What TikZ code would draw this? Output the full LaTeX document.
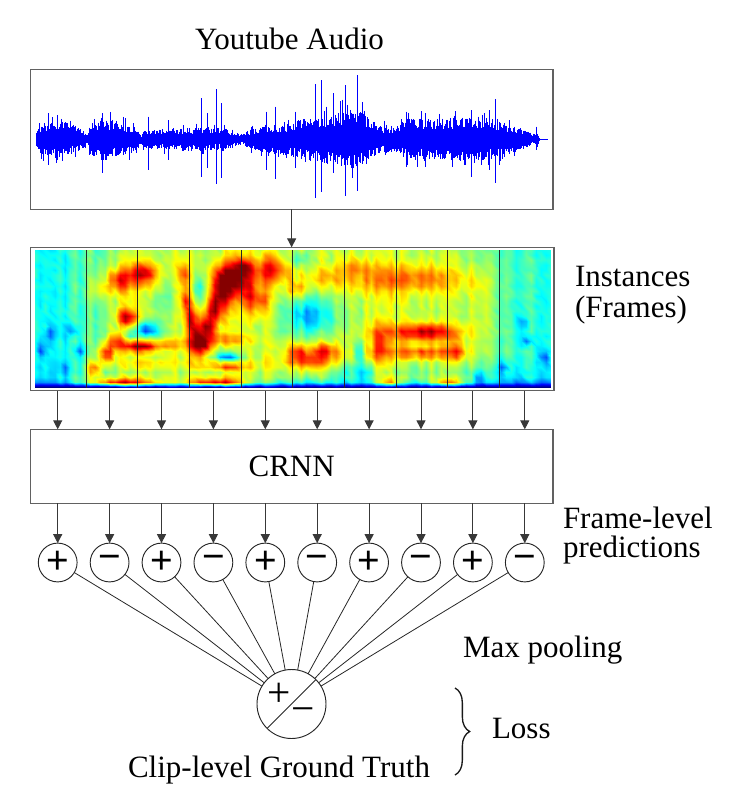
\documentclass[tikz,border=0pt]{standalone}
\usepackage{fontspec}
\setmainfont{Liberation Serif}
\newfontfamily\symsans{Liberation Sans}
\usepackage{pgfplots}
\pgfplotsset{compat=1.18}
\usetikzlibrary{arrows.meta,decorations.pathreplacing}
\newwrite\specout
\begin{document}
\begin{tikzpicture}[x=0.75pt,y=-0.75pt,
  lbl/.style={inner sep=0pt, outer sep=0pt, font=\rmfamily\fontsize{23.25}{23.25}\selectfont},
  frame/.style={draw=black!62, line width=1pt, inner sep=0pt, outer sep=0pt},
  arr/.style={draw=black!78, line width=0.75pt, -{Triangle[length=6.75pt,width=6.8pt]}},
  pred/.style={circle, draw=black!85, line width=0.7pt, minimum size=29.1pt, inner sep=0pt, outer sep=0pt, font=\symsans\fontsize{29}{29}\selectfont},
  link/.style={draw=black!85, line width=0.6pt},
  wv/.style={draw=blue, line width=0.68pt},
  fline/.style={draw=black!85, line width=0.6pt}
]
\useasboundingbox (0,0) rectangle (749,797);
\pgfmathsetseed{42}
% ---------- spectrogram data grid ----------
\foreach \i in {0,...,103} {
  \pgfmathsetmacro\cn{0.05*rand}
  \pgfmathsetmacro\tq{(\i/103-0.5)/0.4}
  \pgfmathsetmacro\mm{0.40+0.15*exp(-min(9,((\tq)*(\tq))^4))}
  \foreach \j in {0,...,27} {
    \pgfmathsetmacro\vq{\j/27}
    \pgfmathsetmacro\val{\mm+(\cn)+0.03*rand-0.45*exp(-min(9,(\vq/0.028)^2))-0.08*exp(-min(9,(\vq/0.12)^2))}
    \expandafter\xdef\csname sg@\i @\j\endcsname{\val}
  }
}
\foreach \ba/\bu/\bv/\bw/\bh in {
 0.30/0.165/0.78/0.025/0.07, 0.38/0.211/0.83/0.025/0.065, 0.12/0.131/0.71/0.02/0.06,
 0.45/0.178/0.51/0.017/0.055, -0.38/0.215/0.42/0.018/0.045, -0.15/0.185/0.38/0.012/0.03,
 0.38/0.20/0.295/0.025/0.03, 0.20/0.24/0.31/0.06/0.03, 0.35/0.114/0.136/0.012/0.05,
 0.35/0.138/0.246/0.012/0.05, 0.30/0.155/0.343/0.012/0.05, 0.13/0.22/0.17/0.06/0.04,
 0.60/0.17/0.045/0.06/0.02, 0.60/0.35/0.045/0.05/0.02,
 0.30/0.288/0.83/0.01/0.08, 0.30/0.292/0.635/0.01/0.08, 0.30/0.302/0.49/0.01/0.08,
 0.30/0.312/0.368/0.01/0.08, 0.45/0.322/0.30/0.014/0.05, 0.45/0.335/0.44/0.013/0.08,
 0.45/0.348/0.586/0.013/0.08, 0.45/0.365/0.708/0.013/0.08, 0.50/0.38/0.80/0.03/0.09,
 0.30/0.405/0.87/0.015/0.05, -0.22/0.318/0.72/0.012/0.1, -0.12/0.262/0.70/0.012/0.12,
 0.25/0.415/0.65/0.015/0.1, 0.30/0.459/0.86/0.025/0.08, 0.20/0.44/0.62/0.012/0.08,
 0.20/0.37/0.35/0.04/0.025, 0.28/0.37/0.16/0.045/0.03, -0.42/0.375/0.22/0.018/0.025,
 -0.26/0.532/0.53/0.04/0.13, -0.15/0.51/0.93/0.015/0.05, 0.30/0.535/0.20/0.04/0.06,
 0.25/0.56/0.27/0.02/0.04, 0.20/0.506/0.26/0.015/0.05, 0.18/0.506/0.71/0.015/0.05,
 0.10/0.56/0.80/0.04/0.06, -0.12/0.60/0.12/0.03/0.06,
 -0.2/0.625/0.25/0.01/0.06, -0.2/0.64/0.10/0.01/0.05,
 0.24/0.72/0.79/0.11/0.09, 0.15/0.62/0.88/0.02/0.05,
 0.36/0.745/0.40/0.07/0.055, 0.10/0.766/0.41/0.025/0.04, 0.22/0.666/0.30/0.012/0.12,
 0.28/0.75/0.25/0.075/0.035, 0.20/0.815/0.26/0.012/0.07, 0.10/0.86/0.60/0.02/0.2,
 0.40/0.80/0.045/0.03/0.02, 0.35/0.685/0.045/0.02/0.02,
 -0.2/0.031/0.39/0.008/0.035, -0.2/0.071/0.41/0.008/0.035, -0.2/0.085/0.26/0.008/0.035,
 -0.2/0.011/0.27/0.008/0.035, -0.15/0.058/0.15/0.008/0.035, -0.2/0.953/0.34/0.008/0.035,
 -0.2/0.987/0.22/0.008/0.035, -0.2/0.906/0.15/0.008/0.035, -0.2/0.86/0.075/0.008/0.035,
 -0.15/0.947/0.47/0.008/0.035} {
  \pgfmathtruncatemacro\ia{max(0,(\bu-4.3*\bw)*103)}
  \pgfmathtruncatemacro\ib{min(103,(\bu+4.3*\bw)*103+1)}
  \pgfmathtruncatemacro\ja{max(0,(\bv-4.3*\bh)*27)}
  \pgfmathtruncatemacro\jb{min(27,(\bv+4.3*\bh)*27+1)}
  \foreach \i in {\ia,...,\ib} {
    \foreach \j in {\ja,...,\jb} {
      \pgfmathsetmacro\dx{(\i/103-\bu)/\bw}
      \pgfmathsetmacro\dy{(\j/27-\bv)/\bh}
      \pgfmathsetmacro\dd{min(40,(\dx)*(\dx)+(\dy)*(\dy))}
      \edef\ov{\csname sg@\i @\j\endcsname}
      \pgfmathsetmacro\nv{\ov+0.7*(\ba)*(exp(-min(9,\dd))+0.4*exp(-min(9,\dd/3.5)))}
      \expandafter\xdef\csname sg@\i @\j\endcsname{\nv}
    }
  }
}
\immediate\openout\specout=\jobname-spec.dat
\foreach \j in {0,...,27} {
  \foreach \i in {0,...,103} {
    \edef\ov{\csname sg@\i @\j\endcsname}
    \pgfmathsetmacro\zz{max(0.005,min(0.995,\ov))}
    \immediate\write\specout{\i\space\j\space\zz}
  }
  \immediate\write\specout{}
}
\immediate\closeout\specout
% ---------- spectrogram image ----------
\begin{scope}[x=1pt,y=1pt]
\begin{axis}[at={(26.25pt,-290.25pt)}, anchor=south west, scale only axis, width=387pt, height=102.75pt,
  hide axis, view={0}{90}, xmin=0, xmax=103, ymin=0, ymax=27, colormap/jet,
  point meta min=0, point meta max=1, enlargelimits=false]
\addplot3[surf, shader=interp] table {\jobname-spec.dat};
\end{axis}
\end{scope}
\foreach \k in {0,...,8} {
  \draw[fline] ({86+51.65*\k},250) -- ({86+51.65*\k},387.5);
}
% ---------- waveform ----------
\foreach \xa/\ea/\xb/\eb in {45/15/60/50, 60/50/100/62, 100/62/140/55, 140/55/185/30, 185/30/195/15,
  195/15/205/50, 205/50/240/72, 240/72/300/55, 300/55/340/40, 340/40/348/10, 348/10/360/30,
  360/30/420/35, 420/35/520/40, 520/40/600/35, 600/35/645/15, 645/15/660/30, 660/30/720/45,
  720/45/780/55, 780/55/850/75, 850/75/920/90, 920/90/960/100, 960/100/1000/85, 1000/85/1040/45,
  1040/45/1100/45, 1100/45/1120/70, 1120/70/1200/65, 1200/65/1300/75, 1300/75/1380/65,
  1380/65/1440/40, 1440/40/1490/18, 1490/18/1497/35, 1497/35/1505/6} {
  \pgfmathsetmacro\pa{20+\xa/2.9}
  \pgfmathsetmacro\pb{20+\xb/2.9}
  \pgfmathtruncatemacro\nn{max(1,(\pb-\pa)/0.8)}
  \foreach \m in {1,...,\nn} {
    \pgfmathsetmacro\wx{\pa+(\pb-\pa)*\m/\nn}
    \pgfmathsetmacro\env{(\ea+(\eb-\ea)*\m/\nn)/3}
    \pgfmathsetmacro\aup{139.3-\env*(0.42+0.5*rnd+0.35*(rnd>0.88))}
    \pgfmathsetmacro\adn{139.3+\env*(0.42+0.5*rnd+0.35*(rnd>0.88))}
    \draw[wv] (\wx,\aup) -- (\wx,\adn);
  }
}
\foreach \sx/\sa/\sb in {48.3/113.3/165, 57.2/115/160, 102.8/113.3/173.3, 148.6/116.7/170,
  168.3/120/160, 201.0/98.3/176.7, 207.2/113.3/168.3, 216.6/89.3/184.3, 221.0/103.3/178.3,
  266.6/111.7/170, 275.2/106.7/179.3, 295.9/111.7/168.3, 315.2/84/198.3, 321.4/80/191.7,
  333.1/93.3/170, 345.9/85/196, 357.9/75/191, 406.2/111.7/166.7, 425.2/113.3/166.7,
  471.7/110/176.7, 489.0/110/170, 495.9/99.3/182.7, 536.2/126.7/150} {
  \draw[wv] (\sx,\sa) -- (\sx,\sb);
}
\draw[wv, line width=0.5pt] (539,139.3) -- (547.6,139.3);
% ---------- boxes ----------
\node[frame, minimum width=392pt, minimum height=104.7pt] (wave) at (291.65,139.5) {};
\node[frame, minimum width=392.5pt, minimum height=107.55pt] (spec) at (292.35,319) {};
\node[frame, lbl, draw=black!62, line width=1pt, minimum width=392pt, minimum height=55.5pt] (crnn) at (291.65,466.3) {CRNN};
% ---------- texts ----------
\node[lbl, anchor=base] (title) at (289.5,49) {Youtube Audio};
\node[lbl, anchor=base west, align=left] (inst) at (575,317) {Instances\\(Frames)};
\node[lbl, anchor=base west, align=left, font=\rmfamily\fontsize{23.25}{21.4}\selectfont] (flp) at (563,557) {Frame-level\\predictions};
\node[lbl, anchor=base west] (maxp) at (463,657) {Max pooling};
\node[lbl, anchor=base west] (loss) at (492,738) {Loss};
\node[lbl, anchor=base] (clip) at (279,777) {Clip-level Ground Truth};
% ---------- prediction circles ----------
\foreach \k/\s in {0/+,1/−,2/+,3/−,4/+,5/−,6/+,7/−,8/+,9/−} {
  \node[pred] (p\k) at ({57.7+51.9*\k},562.5) {\s};
}
\node[circle, draw=black!85, line width=0.7pt, minimum size=51.75pt, inner sep=0pt, outer sep=0pt] (gt) at (291.5,704) {};
\draw[fline, line width=0.7pt] (gt.225) -- (gt.45);
\node[inner sep=0pt, font=\rmfamily\fontsize{31}{31}\selectfont] (gtp) at (279,695) {+};
\node[inner sep=0pt, font=\rmfamily\fontsize{31}{31}\selectfont] (gtm) at (302.7,715) {−};
% ---------- connectors ----------
\draw[arr] (wave.south) -- (wave.south |- spec.north);
\foreach \k in {0,...,9} {
  \draw[arr] (spec.south -| p\k) -- (crnn.north -| p\k);
  \draw[arr] (crnn.south -| p\k) -- (p\k);
  \draw[link] (p\k) -- (gt);
}
\coordinate (bra) at (455,688);
\coordinate (brb) at (455,775);
\draw[decorate, decoration={brace, amplitude=11pt}, line width=1pt, black!90] (bra) -- (brb);
\end{tikzpicture}
\end{document}
